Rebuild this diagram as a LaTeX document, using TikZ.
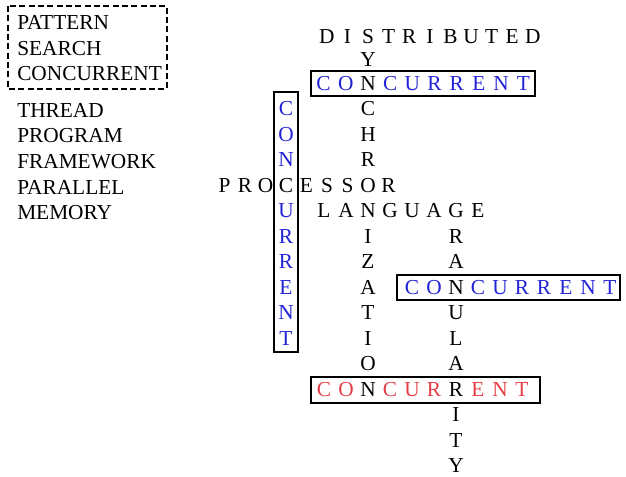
\documentclass[tikz,border=0pt]{standalone}
\usepackage{fontspec}
\setmainfont{Liberation Serif}
\usepackage{tikz}
\usetikzlibrary{positioning}
\definecolor{cwblue}{RGB}{35,35,215}
\definecolor{cwred}{RGB}{232,62,72}
\newcommand{\gridfont}{\fontsize{16}{19}\selectfont}

\begin{document}
\begin{tikzpicture}[x=0.75pt,y=-0.75pt,
  declare function={rowy(\r)=(\r<2)*(36+23*\r)+(\r>=2)*(83+25.5*(\r-2));},
  letter/.style={inner sep=0pt, text height=10.7pt, text depth=0pt, font=\gridfont},
  listword/.style={letter, anchor=west},
  wordbox/.style={draw=black, line width=1.1pt},
  listbox/.style={draw=black, line width=0.9pt, dash pattern=on 4.5pt off 2.5pt}]
\useasboundingbox (0,0) rectangle (626,477);
% Word List
\node[listword] (w-pattern) at (17,22) {PATTERN};
\node[listword] (w-search) at (17,48) {SEARCH};
\node[listword] (w-concurrent) at (17,73) {CONCURRENT};
\node[listword] (w-thread) at (17,110) {THREAD};
\node[listword] (w-program) at (17,135) {PROGRAM};
\node[listword] (w-framework) at (17,161) {FRAMEWORK};
\node[listword] (w-parallel) at (17,187) {PARALLEL};
\node[listword] (w-memory) at (17,212) {MEMORY};
\draw[listbox] (8,6) rectangle (167,89);
%
% Words Down
\foreach \l [count=\i from 0] in {S,Y,N,C,H,R,O,N,I,Z,A,T,I,O,N}
  \node[letter] (sync-\i) at (368,{rowy(\i)}) {\l};
\foreach \l [count=\i from 0] in {G,R,A,N,U,L,A,R,I,T,Y}
  \node[letter] (gran-\i) at (456,{rowy(\i+7)}) {\l};
\foreach \l [count=\i from 0] in {C,O,N,,U,R,R,E,N,T}
  \node[letter, text=cwblue] (down-\i) at (286,{rowy(\i+3)}) {\l};
%
% Words Across (crossing letters left out)
\foreach \l [count=\i from 0] in {D,I,,T,R,I,B,U,T,E,D}
  \node[letter] (dist-\i) at ({326.8+20.6*\i},{rowy(0)}) {\l};
\foreach \l [count=\i from 0] in {P,R,O,C,E,S,S,,R}
  \node[letter] (proc-\i) at ({224.5+20.5*\i},{rowy(6)}) {\l};
\foreach \l [count=\i from 0] in {L,A,,G,U,A,,E}
  \node[letter] (lang-\i) at ({324+22*\i},{rowy(7)}) {\l};
\foreach \l [count=\i from 0] in {C,O,,C,U,R,R,E,N,T}
  \node[letter, text=cwblue] (top-\i) at ({323.6+22.2*\i},{rowy(2)}) {\l};
\foreach \l [count=\i from 0] in {C,O,,C,U,R,R,E,N,T}
  \node[letter, text=cwblue] (right-\i) at ({412+22*\i},{rowy(10)}) {\l};
\foreach \l [count=\i from 0] in {C,O,,C,U,R,,E,N,T}
  \node[letter, text=cwred] (bot-\i) at ({324+22*\i},{rowy(14)}) {\l};
%
% Boxes
\draw[wordbox] (311,71) rectangle (535,96);
\draw[wordbox] (274,92) rectangle (298,352);
\draw[wordbox] (397,275) rectangle (620,300);
\draw[wordbox] (311,377) rectangle (540,403);
\end{tikzpicture}
\end{document}
